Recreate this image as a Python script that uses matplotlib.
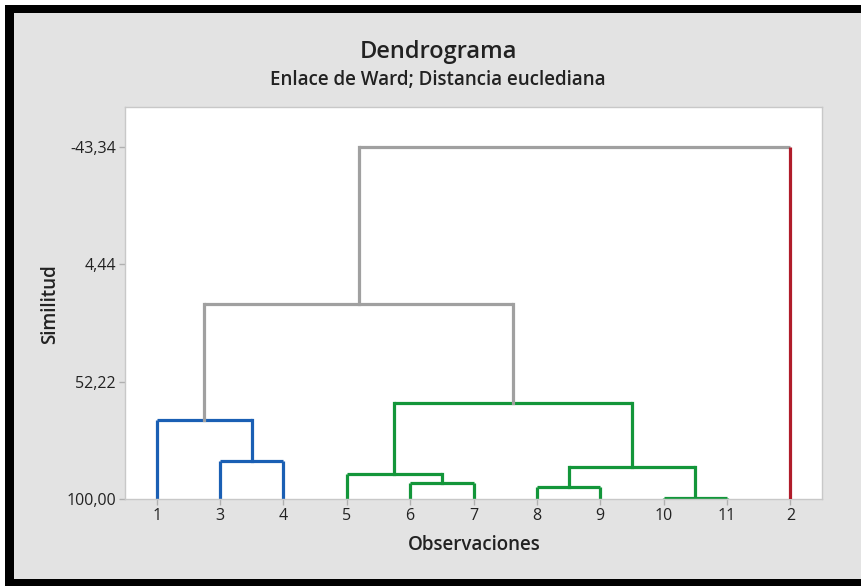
import matplotlib
matplotlib.use("Agg")
import matplotlib.pyplot as plt
from matplotlib.patches import Rectangle

# ---- data ----
leaf_labels = ["1", "3", "4", "5", "6", "7", "8", "9", "10", "11", "2"]
leaf_colors = ["#1a5fb4"] * 3 + ["#13963a"] * 7 + ["#b01c2a"]
# merges (node ids: leaves 0..10, merges 11..20), similarity of each merge
merge_children = [(8, 9), (6, 7), (4, 5), (3, 13), (12, 11),
                  (1, 2), (0, 16), (14, 15), (17, 18), (19, 10)]
merge_sim = [99.6, 95.1, 93.5, 90.0, 87.0, 84.5, 67.8, 60.9, 20.6, -43.34]
merge_colors = ["#13963a", "#13963a", "#13963a", "#13963a", "#13963a",
                "#1a5fb4", "#1a5fb4", "#13963a", "#a0a0a0", "#a0a0a0"]
ytick_vals = [100.0, 52.22, 4.44, -43.34]
ytick_labels = ["100,00", "52,22", "4,44", "-43,34"]

plt.rcParams['font.family'] = ['Open Sans', 'DejaVu Sans']
W, H = 861, 586
fig = plt.figure(figsize=(W / 100, H / 100), dpi=100)
fig.patch.set_facecolor("#e3e3e3")

# outer frame
fig.patches.append(Rectangle((0, 0), 1, 1, transform=fig.transFigure,
                             facecolor="white", edgecolor="none", zorder=-3))
fig.patches.append(Rectangle((5 / W, 0), 1 - 5 / W, 1 - 5 / H, transform=fig.transFigure,
                             facecolor="black", edgecolor="none", zorder=-2))
fig.patches.append(Rectangle((14 / W, 7 / H), 1 - 14 / W, 1 - 7 / H - 13 / H,
                             transform=fig.transFigure,
                             facecolor="#e3e3e3", edgecolor="none", zorder=-1))

ax = fig.add_axes([125 / W, 87 / H, 697 / W, 392 / H])
ax.set_facecolor("white")

n_leaves = len(leaf_labels)
xpos = {i: i + 1 for i in range(n_leaves)}
height = {i: 100.0 for i in range(n_leaves)}
node_color = {i: leaf_colors[i] for i in range(n_leaves)}
parent = {}
for k, (l, r) in enumerate(merge_children):
    m = n_leaves + k
    xpos[m] = (xpos[l] + xpos[r]) / 2
    height[m] = merge_sim[k]
    node_color[m] = merge_colors[k]
    parent[l] = m
    parent[r] = m

lw = 2.3
for k, (l, r) in enumerate(merge_children):
    m = n_leaves + k
    ax.plot([xpos[l], xpos[r]], [height[m], height[m]], color=node_color[m],
            lw=lw, solid_capstyle='butt', zorder=2)
for n, p in parent.items():
    c = node_color[n] if n < n_leaves else node_color[p]
    ax.plot([xpos[n], xpos[n]], [height[n], height[p]], color=c, lw=lw,
            solid_capstyle='projecting' if n >= n_leaves else 'butt',
            zorder=3 if n == n_leaves - 1 else 2)

ax.set_xlim(0.5, n_leaves + 0.5)
ax.set_ylim(100, -59.6)
ax.set_xticks(range(1, n_leaves + 1))
ax.set_xticklabels(leaf_labels)
ax.set_yticks(ytick_vals)
ax.set_yticklabels(ytick_labels)
for s in ax.spines.values():
    s.set_color("#c8c8c8")
    s.set_linewidth(1)
ax.tick_params(axis='both', colors="#b0b0b0", labelcolor="#222222", labelsize=11.5,
               length=4.5, width=1, pad=2)

ax.set_xlabel("Observaciones", fontsize=13.5, fontweight='semibold', color="#222222")
ax.set_ylabel("Similitud", fontsize=13.5, fontweight='semibold', color="#222222")
ax.xaxis.set_label_coords((474 - 125) / 697, (499 - 545) / 392)
ax.yaxis.set_label_coords((50 - 125) / 697, (499 - 304) / 392)
ax.xaxis.label.set_va('center')
ax.yaxis.label.set_va('center')

fig.text(438 / W, 1 - 52 / H, "Dendrograma", ha='center', va='center', fontsize=17,
         fontweight='semibold', color="#222222")
fig.text(438 / W, 1 - 80 / H, "Enlace de Ward; Distancia euclediana", ha='center', va='center',
         fontsize=13.5, fontweight='semibold', color="#222222")

fig.savefig("out.png", dpi=100, facecolor=fig.get_facecolor())
